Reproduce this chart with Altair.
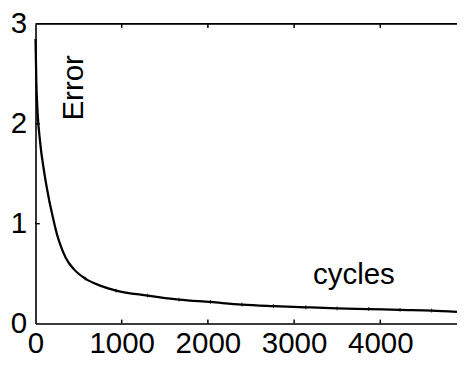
import altair as alt
import pandas as pd

cycles = [0, 10, 25, 53, 100, 160, 200, 250, 300, 350, 450, 578, 750, 935, 1300, 1665, 2030, 2395,
          2760, 3135, 3500, 3865, 4230, 4595, 4890]
error = [2.85, 2.4, 2.1, 1.82, 1.52, 1.23, 1.07, 0.89, 0.76, 0.66, 0.54, 0.45, 0.38, 0.33, 0.28, 0.24,
         0.216, 0.19, 0.175, 0.163, 0.152, 0.145, 0.137, 0.13, 0.118]
marker_idx = [5, 11, 13, 14, 15, 16, 17, 18, 19, 20, 21, 22, 23]

x_ticks = [0, 1000, 2000, 3000, 4000]
y_ticks = [0, 1, 2, 3]
x_max = 4890
y_max = 3

FONT = "Liberation Sans"
FS = 30

df = pd.DataFrame({"cycles": cycles, "error": error})
mk = df.iloc[marker_idx]

xs = alt.Scale(domain=[0, x_max], nice=False, zero=False)
ys = alt.Scale(domain=[0, y_max], nice=False, zero=False)

line = alt.Chart(df).mark_line(color="black", strokeWidth=2.3, interpolate="monotone").encode(
    x=alt.X("cycles:Q", scale=xs, axis=alt.Axis(values=x_ticks, format="d", title=None, grid=False, ticks=False,
                                                labelFontSize=FS, labelFont=FONT, labelColor="black",
                                                domainColor="black", domainWidth=1.6, labelPadding=5,
                                                labelFlush=False, labelOverlap=False)),
    y=alt.Y("error:Q", scale=ys, axis=alt.Axis(values=y_ticks, format="d", title=None, grid=False, ticks=False,
                                               labelFontSize=FS, labelFont=FONT, labelColor="black",
                                               domainColor="black", domainWidth=1.6, labelPadding=9,
                                               labelFlush=False, labelOverlap=False)),
)

marks = alt.Chart(mk).mark_tick(color="black", orient="vertical", size=4, thickness=1.2).encode(
    x="cycles:Q", y=alt.Y("error:Q")
)

xt = pd.DataFrame({"x": x_ticks[1:]})
bottom_ticks = alt.Chart(xt).mark_rule(color="black", strokeWidth=1.5).encode(
    x="x:Q", y=alt.datum(0), y2=alt.datum(0.04))
top_ticks = alt.Chart(xt).mark_rule(color="black", strokeWidth=1.5).encode(
    x="x:Q", y=alt.datum(y_max), y2=alt.datum(y_max - 0.04))
yt = pd.DataFrame({"y": y_ticks[1:-1]})
left_ticks = alt.Chart(yt).mark_rule(color="black", strokeWidth=1.5).encode(
    y="y:Q", x=alt.datum(0), x2=alt.datum(50))
top_border = alt.Chart(pd.DataFrame({"a": [0]})).mark_rule(color="black", strokeWidth=1.6).encode(
    x=alt.datum(0), x2=alt.datum(x_max), y=alt.datum(y_max))

err_txt = alt.Chart(pd.DataFrame({"t": ["Error"]})).mark_text(
    angle=270, align="center", baseline="middle", font=FONT, fontSize=FS, color="black").encode(
    x=alt.datum(445), y=alt.datum(2.36), text="t:N")
cyc_txt = alt.Chart(pd.DataFrame({"t": ["cycles"]})).mark_text(
    align="center", baseline="alphabetic", font=FONT, fontSize=FS, color="black").encode(
    x=alt.datum(3694), y=alt.datum(0.395), text="t:N")

chart = alt.layer(top_border, line, marks, bottom_ticks, top_ticks, left_ticks, err_txt, cyc_txt).properties(
    width=429, height=305,
    autosize=alt.AutoSizeParams(type="none"),
    padding={"left": 28, "top": 13, "right": 0, "bottom": 40},
).configure_view(stroke=None).configure(background="white")

chart.save("out.html", embed_options={"renderer": "svg", "actions": False})
